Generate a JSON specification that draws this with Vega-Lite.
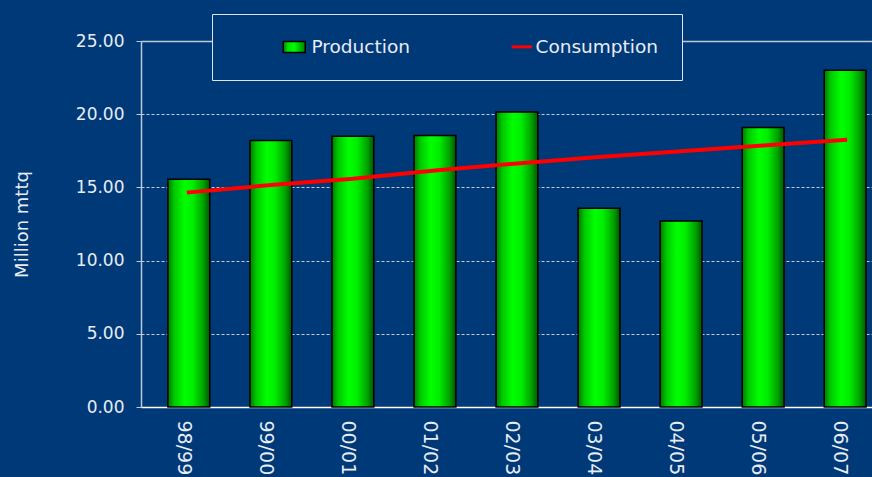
{
  "$schema": "https://vega.github.io/schema/vega-lite/v6.json",
  "width": 731,
  "height": 366,
  "autosize": {"type": "none"},
  "padding": {"left": 141, "top": 41, "right": 0, "bottom": 70},
  "background": "#003978",
  "view": {"stroke": null},
  "data": {
    "values": [
      {"year": "98/99", "series": "Production", "value": 15.55},
      {"year": "99/00", "series": "Production", "value": 18.2},
      {"year": "00/01", "series": "Production", "value": 18.5},
      {"year": "01/02", "series": "Production", "value": 18.55},
      {"year": "02/03", "series": "Production", "value": 20.15},
      {"year": "03/04", "series": "Production", "value": 13.57},
      {"year": "04/05", "series": "Production", "value": 12.7},
      {"year": "05/06", "series": "Production", "value": 19.1},
      {"year": "06/07", "series": "Production", "value": 23.0},
      {"year": "98/99", "series": "Consumption", "value": 14.66},
      {"year": "99/00", "series": "Consumption", "value": 15.16},
      {"year": "00/01", "series": "Consumption", "value": 15.59},
      {"year": "01/02", "series": "Consumption", "value": 16.16},
      {"year": "02/03", "series": "Consumption", "value": 16.64},
      {"year": "03/04", "series": "Consumption", "value": 17.08},
      {"year": "04/05", "series": "Consumption", "value": 17.47},
      {"year": "05/06", "series": "Consumption", "value": 17.86},
      {"year": "06/07", "series": "Consumption", "value": 18.25}
    ]
  },
  "layer": [
    {
      "transform": [{"filter": "datum.series === 'Production'"}],
      "mark": {
        "type": "bar",
        "fill": {
          "gradient": "linear", "x1": 0, "y1": 0, "x2": 1, "y2": 0,
          "stops": [
            {"offset": 0, "color": "#007800"},
            {"offset": 0.15, "color": "#00c800"},
            {"offset": 0.4, "color": "#00ff00"},
            {"offset": 0.6, "color": "#00ee00"},
            {"offset": 0.85, "color": "#00a000"},
            {"offset": 1, "color": "#005500"}
          ]
        },
        "stroke": "#000000",
        "strokeWidth": 1.5
      },
      "encoding": {
        "x": {
          "field": "year", "type": "nominal", "sort": null,
          "scale": {"paddingInner": 0.49, "paddingOuter": 0.2, "align": 0.82},
          "axis": {
            "title": null,
            "labelAngle": 90,
            "labelFont": "DejaVu Sans",
            "labelFontSize": 19,
            "labelColor": "#E8ECF4",
            "labelPadding": 13,
            "labelOffset": -5,
            "ticks": false,
            "grid": false,
            "domainColor": "#FFFFFF",
            "domainWidth": 1.5
          }
        },
        "y": {
          "field": "value", "type": "quantitative",
          "scale": {"domain": [0, 25], "nice": false},
          "axis": {
            "values": [0, 5, 10, 15, 20, 25],
            "format": ".2f",
            "labelFont": "DejaVu Sans",
            "labelFontSize": 17,
            "labelColor": "#E8ECF4",
            "labelPadding": 12,
            "tickSize": 5,
            "tickColor": "#C0C8D8",
            "domainColor": "#C0C8D8",
            "domainWidth": 1.5,
            "grid": true,
            "gridColor": {"condition": {"test": "datum.value === 25", "value": "#C0C8D8"}, "value": "#C8CCD8"},
            "gridDash": {"condition": {"test": "datum.value === 25", "value": []}, "value": [3, 2]},
            "gridWidth": {"condition": {"test": "datum.value === 25", "value": 1.5}, "value": 1},
            "title": "Million mttq",
            "titleFont": "DejaVu Sans",
            "titleFontSize": 18,
            "titleFontWeight": "normal",
            "titleColor": "#E8ECF4",
            "titleAngle": -90,
            "titleX": -119,
            "titleY": 183,
            "titleAlign": "center",
            "titleBaseline": "middle"
          }
        }
      }
    },
    {
      "transform": [{"filter": "datum.series === 'Consumption'"}],
      "mark": {"type": "line", "strokeWidth": 4, "strokeCap": "square"},
      "encoding": {
        "x": {"field": "year", "type": "nominal", "sort": null},
        "y": {"field": "value", "type": "quantitative"},
        "color": {
          "field": "series", "type": "nominal",
          "scale": {"domain": ["Production", "Consumption"], "range": ["#000000", "#ff0000"]},
          "legend": {
            "orient": "none",
            "legendX": 71,
            "legendY": -27,
            "direction": "horizontal",
            "title": " ",
            "titleOrient": "left",
            "titleFontSize": 1,
            "titlePadding": 49.5,
            "padding": 23.5,
            "strokeColor": "#E0E4EC",
            "fillColor": "#003978",
            "labelFont": "DejaVu Sans",
            "labelFontSize": 18.5,
            "labelColor": "#E8ECF4",
            "labelOffset": 8,
            "columnPadding": 95,
            "symbolSize": 484,
            "labelLimit": 300,
            "encode": {
              "symbols": {
                "update": {
                  "shape": {"signal": "datum.value === 'Production' ? 'M-1,-0.5H1V0.5H-1Z' : 'M-0.6,0H1.27'"},
                  "fill": {"value": {
                    "gradient": "linear", "x1": 0, "y1": 0, "x2": 1, "y2": 0,
                    "stops": [
                      {"offset": 0, "color": "#007800"},
                      {"offset": 0.2, "color": "#00e000"},
                      {"offset": 0.5, "color": "#00ff00"},
                      {"offset": 1, "color": "#008000"}
                    ]
                  }},
                  "stroke": {"signal": "datum.value === 'Production' ? '#000000' : '#ff0000'"},
                  "strokeWidth": {"signal": "datum.value === 'Production' ? 1.5 : 3"},
                  "size": {"value": 484},
                  "opacity": {"value": 1}
                }
              }
            }
          }
        }
      }
    }
  ]
}
